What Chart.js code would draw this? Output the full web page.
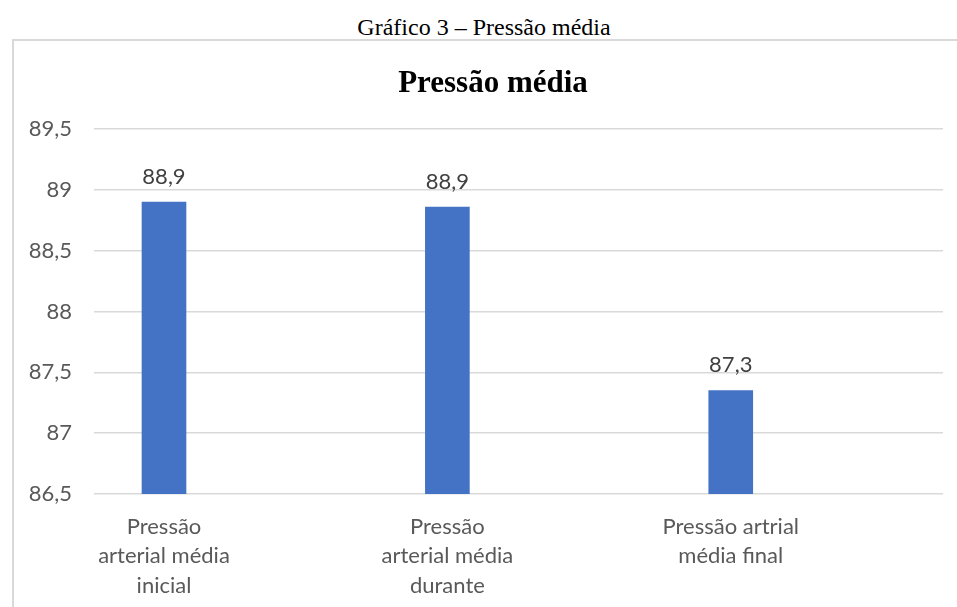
<!DOCTYPE html>
<html>
<head>
<meta charset="utf-8">
<script src="https://cdn.jsdelivr.net/npm/chart.js@4/dist/chart.umd.min.js"></script>
<style>
  html, body { margin: 0; padding: 0; width: 957px; height: 607px; overflow: hidden; background: #fff; }
  #caption { position: absolute; left: 0; top: 13px; width: 968px; text-align: center;
    font-family: "Liberation Serif", "Times New Roman", serif; font-size: 24px; color: #000; line-height: 28px; }
  #box { position: absolute; left: 12px; top: 39px; width: 1000px; height: 600px;
    border-left: 2px solid #d9d9d9; border-top: 2px solid #d9d9d9; }
  #wrap { position: absolute; left: 14px; top: 41px; width: 958px; height: 566px; }
</style>
</head>
<body>
<div id="caption">Gráfico 3 – Pressão média</div>
<div id="box"></div>
<div id="wrap"><canvas id="c"></canvas></div>
<script>
const chartTitle = "Pressão média";
const categories = [
  ["Pressão", "arterial média", "inicial"],
  ["Pressão", "arterial média", "durante"],
  ["Pressão artrial", "média final"]
];
const values = [88.9, 88.86, 87.35];
const valueLabels = ["88,9", "88,9", "87,3"];
const yTicks = [86.5, 87, 87.5, 88, 88.5, 89, 89.5];

const fontFamily = "Lato, 'Open Sans', sans-serif";

const dataLabelPlugin = {
  id: 'dataLabels',
  afterDatasetsDraw(chart) {
    const ctx = chart.ctx;
    const meta = chart.getDatasetMeta(0);
    ctx.save();
    ctx.font = "22px " + fontFamily;
    ctx.fillStyle = "#404040";
    ctx.textAlign = "center";
    ctx.textBaseline = "alphabetic";
    meta.data.forEach((bar, i) => {
      ctx.fillText(valueLabels[i], bar.x, bar.y - 18.5);
    });
    ctx.restore();
  }
};

new Chart(document.getElementById('c'), {
  type: 'bar',
  data: {
    datasets: [{
      data: values.map((v, i) => ({ x: i, y: v })),
      backgroundColor: '#4472C4',
      borderWidth: 0,
      barThickness: 44
    }]
  },
  options: {
    responsive: true,
    maintainAspectRatio: false,
    animation: false,
    layout: { padding: 0 },
    plugins: {
      legend: { display: false },
      tooltip: { enabled: false },
      title: {
        display: true,
        text: chartTitle,
        color: '#000',
        font: { family: "'Liberation Serif', 'Times New Roman', serif", size: 31, weight: 'bold', lineHeight: 1.2 },
        padding: { top: 24, bottom: 27 }
      }
    },
    scales: {
      x: {
        type: 'linear',
        offset: false,
        min: -0.247,
        max: 2.749,
        grid: { display: false, drawTicks: false, offset: false },
        border: { display: false },
        afterBuildTicks(scale) { scale.ticks = categories.map((c, i) => ({ value: i })); },
        afterFit(scale) { scale.height = 113; },
        ticks: {
          padding: 18,
          color: '#595959',
          font: { family: fontFamily, size: 22, lineHeight: 1.34 },
          maxRotation: 0,
          autoSkip: false,
          callback: (v) => categories[v]
        }
      },
      y: {
        min: 86.5,
        max: 89.5,
        afterBuildTicks(scale) { scale.ticks = yTicks.map(v => ({ value: v })); },
        afterFit(scale) { scale.width = 80; },
        grid: { color: '#d9d9d9', lineWidth: 1.5, drawTicks: false },
        border: { display: false },
        ticks: {
          padding: 22,
          color: '#595959',
          font: { family: fontFamily, size: 22 },
          callback: (v) => String(v).replace('.', ',')
        }
      },
      yRight: {
        position: 'right',
        display: true,
        min: 86.5,
        max: 89.5,
        grid: { display: false, drawTicks: false },
        border: { display: false },
        ticks: { display: false },
        afterFit(scale) { scale.width = 29; }
      }
    }
  },
  plugins: [dataLabelPlugin]
});
</script>
</body>
</html>
